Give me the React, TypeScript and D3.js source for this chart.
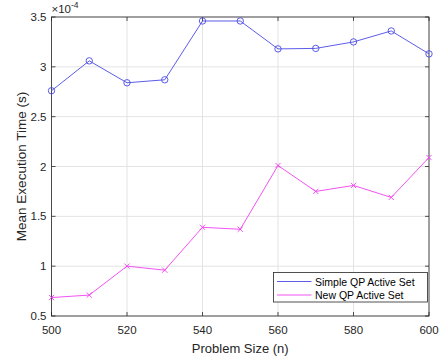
import React, { useRef, useEffect } from "react";
import * as d3 from "d3";

const sizes = [500, 510, 520, 530, 540, 550, 560, 570, 580, 590, 600];
const simpleQP = [2.76, 3.06, 2.84, 2.87, 3.46, 3.46, 3.18, 3.185, 3.25, 3.36, 3.13];
const newQP = [0.685, 0.71, 1.0, 0.96, 1.39, 1.37, 2.01, 1.75, 1.81, 1.69, 2.09];
const xTicks = [500, 520, 540, 560, 580, 600];
const yTicks = [0.5, 1, 1.5, 2, 2.5, 3, 3.5];
const seriesNames = ["Simple QP Active Set", "New QP Active Set"];

const W = 444;
const H = 361;
const FONT = "'Liberation Sans', Arial, Helvetica, sans-serif";
const AXIS = "#262626";
const BLUE = "#4a4ae6";
const MAGENTA = "#f040f0";

const App = () => {
  const svgRef = useRef<SVGSVGElement>(null);

  useEffect(() => {
    const svg = d3.select(svgRef.current);
    svg.selectAll("*").remove();

    const left = 51.5;
    const right = 429;
    const top = 17;
    const bottom = 316;

    const x = d3.scaleLinear().domain([500, 600]).range([left, right]);
    const y = d3.scaleLinear().domain([0.5, 3.5]).range([bottom, top]);

    svg.append("rect").attr("width", W).attr("height", H).attr("fill", "#fff");

    // grid
    const grid = svg.append("g").attr("stroke", "#e3e3e3").attr("stroke-width", 1);
    xTicks.forEach((t) => {
      grid.append("line").attr("x1", x(t)).attr("x2", x(t)).attr("y1", top).attr("y2", bottom);
    });
    yTicks.forEach((t) => {
      grid.append("line").attr("x1", left).attr("x2", right).attr("y1", y(t)).attr("y2", y(t));
    });

    // box + inner ticks
    const ax = svg.append("g").attr("stroke", AXIS).attr("stroke-width", 0.8).attr("fill", "none");
    ax.append("rect").attr("x", left).attr("y", top).attr("width", right - left).attr("height", bottom - top);
    const tl = 4;
    xTicks.forEach((t) => {
      ax.append("line").attr("x1", x(t)).attr("x2", x(t)).attr("y1", bottom).attr("y2", bottom - tl);
      ax.append("line").attr("x1", x(t)).attr("x2", x(t)).attr("y1", top).attr("y2", top + tl);
    });
    yTicks.forEach((t) => {
      ax.append("line").attr("x1", left).attr("x2", left + tl).attr("y1", y(t)).attr("y2", y(t));
      ax.append("line").attr("x1", right).attr("x2", right - tl).attr("y1", y(t)).attr("y2", y(t));
    });

    // tick labels
    const labels = svg.append("g").attr("font-family", FONT).attr("font-size", 11.5).attr("fill", AXIS);
    xTicks.forEach((t) => {
      labels.append("text").attr("x", x(t)).attr("y", bottom + 18).attr("text-anchor", "middle").text(t);
    });
    yTicks.forEach((t) => {
      labels.append("text").attr("x", left - 5).attr("y", y(t) + 4).attr("text-anchor", "end").text(t);
    });

    // exponent
    const exp = labels.append("text").attr("x", left).attr("y", top - 4);
    exp.append("tspan").text("\u00d710");
    exp.append("tspan").attr("dy", -5).attr("font-size", 8.5).text("-4");

    // axis titles
    svg.append("text").attr("x", (left + right) / 2).attr("y", bottom + 37)
      .attr("text-anchor", "middle").attr("font-family", FONT).attr("font-size", 13)
      .attr("fill", AXIS).text("Problem Size (n)");
    svg.append("text").attr("transform", `translate(26,${(top + bottom) / 2}) rotate(-90)`)
      .attr("text-anchor", "middle").attr("font-family", FONT).attr("font-size", 13.5)
      .attr("fill", AXIS).text("Mean Execution Time (s)");

    const line = d3.line<number>().x((_, i) => x(sizes[i])).y((d) => y(d));

    // series 1
    svg.append("path").datum(simpleQP).attr("d", line).attr("fill", "none")
      .attr("stroke", BLUE).attr("stroke-width", 0.9);
    svg.append("g").selectAll("circle").data(simpleQP).enter().append("circle")
      .attr("cx", (_, i) => x(sizes[i])).attr("cy", (d) => y(d)).attr("r", 3.2)
      .attr("fill", "none").attr("stroke", BLUE).attr("stroke-width", 0.9);

    // series 2
    svg.append("path").datum(newQP).attr("d", line).attr("fill", "none")
      .attr("stroke", MAGENTA).attr("stroke-width", 0.9);
    const s = 2.6;
    svg.append("g").selectAll("path").data(newQP).enter().append("path")
      .attr("d", (d, i) => {
        const cx = x(sizes[i]);
        const cy = y(d);
        return `M${cx - s},${cy - s}L${cx + s},${cy + s}M${cx - s},${cy + s}L${cx + s},${cy - s}`;
      })
      .attr("stroke", MAGENTA).attr("stroke-width", 0.9);

    // legend
    const lg = svg.append("g");
    lg.append("rect").attr("x", 273.5).attr("y", 272.5).attr("width", 154).attr("height", 29.5)
      .attr("fill", "#fff").attr("stroke", AXIS).attr("stroke-width", 0.8);
    [BLUE, MAGENTA].forEach((c, i) => {
      const ly = 281.5 + i * 13.5;
      lg.append("line").attr("x1", 277).attr("x2", 311.5).attr("y1", ly).attr("y2", ly)
        .attr("stroke", c).attr("stroke-width", 0.9);
      lg.append("text").attr("x", 315).attr("y", ly + 4).attr("font-family", FONT)
        .attr("font-size", 10.5).attr("fill", "#000").text(seriesNames[i]);
    });
  }, []);

  return (
    <svg ref={svgRef} width={W} height={H} style={{ position: "absolute", left: 0, top: 0 }} />
  );
};

export default App;
